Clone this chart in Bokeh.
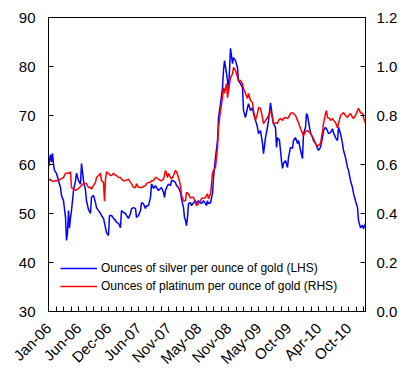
import math
from bokeh.plotting import figure
from bokeh.models import LinearAxis, Range1d, FixedTicker, PrintfTickFormatter
from bokeh.embed import file_html
from bokeh.resources import INLINE

# ---- data ----
# x = trading-day number counted from the first trading day of Jan 2006
silver_day = [0, 8, 12, 16, 20, 24, 32, 40, 48, 52, 60, 68, 72, 76, 80, 84, 88, 92, 100, 108, 112, 120, 128, 132, 140, 148,
              152, 160, 168, 172, 180, 188, 192, 200, 208, 212, 220, 228, 232, 240, 244, 252, 260, 268, 272, 280, 288, 292,
              300, 308, 312, 320, 328, 332, 340, 348, 352, 360, 368, 372, 380, 388, 392, 400, 408, 412, 416, 420, 428, 432,
              440, 448, 452, 460, 464, 468, 476, 480, 488, 492, 500, 508, 512, 520, 528, 532, 540, 544, 548, 552, 556, 560,
              568, 572, 580, 588, 592, 600, 608, 612, 620, 628, 632, 636, 640, 648, 656, 660, 668, 676, 680, 684, 688, 696,
              700, 704, 712, 716, 720, 724, 728, 736, 740, 748, 756, 760, 768, 776, 780, 788, 796, 800, 808, 816, 820, 828,
              836, 840, 848, 856, 860, 868, 876, 880, 888, 896, 900, 908, 912, 916, 924, 932, 936, 940, 948, 956, 960, 968,
              976, 980, 988, 996, 1000, 1008, 1016, 1020, 1028, 1032, 1036, 1044, 1048, 1056, 1060, 1068, 1076, 1080, 1088,
              1096, 1100, 1108, 1116, 1120, 1128, 1136, 1140, 1148, 1156, 1160, 1168, 1176, 1180, 1188, 1196, 1200, 1208,
              1216, 1220, 1228, 1236, 1240, 1248, 1256, 1260, 1268]
silver_ratio = [59.5, 62.0, 60.5, 62.3, 60.0, 58.8, 58.2, 56.7, 55.3, 53.7, 52.6, 49.2, 44.5, 46.0, 50.6, 47.0, 49.2, 50.6,
                54.7, 56.7, 58.2, 56.7, 56.0, 60.2, 56.7, 54.7, 52.6, 50.8, 50.0, 53.3, 53.7, 52.2, 51.2, 50.6, 50.0, 49.6,
                49.0, 47.1, 46.1, 45.5, 49.6, 49.6, 49.0, 48.6, 48.2, 48.0, 47.1, 50.6, 50.2, 50.0, 49.6, 49.0, 50.0, 51.0,
                51.2, 51.0, 49.2, 49.6, 50.6, 52.2, 52.0, 51.0, 51.6, 51.6, 53.3, 56.0, 55.7, 55.1, 55.7, 55.3, 54.7, 55.1,
                55.3, 54.3, 53.3, 54.7, 55.7, 56.0, 55.7, 56.7, 56.7, 56.3, 55.7, 55.3, 54.3, 53.0, 51.2, 49.2, 48.6, 47.5,
                49.2, 52.0, 52.2, 51.6, 52.2, 52.6, 52.0, 52.6, 52.2, 52.0, 52.6, 52.0, 51.6, 52.6, 52.0, 52.2, 54.1, 57.3,
                61.4, 64.9, 69.4, 71.0, 72.4, 75.7, 79.2, 81.2, 78.6, 77.1, 75.1, 79.2, 83.7, 80.6, 81.8, 81.2, 79.8, 77.1,
                76.5, 75.7, 71.0, 69.6, 71.6, 72.4, 71.0, 71.6, 70.4, 69.0, 67.6, 66.3, 66.9, 64.3, 62.2, 65.5, 67.6, 69.0,
                72.6, 69.6, 68.3, 67.6, 63.5, 65.5, 64.9, 60.8, 59.2, 60.2, 60.8, 59.4, 61.4, 63.5, 63.3, 64.9, 65.5, 64.3,
                64.9, 62.9, 61.2, 66.3, 67.6, 70.4, 70.0, 67.6, 66.5, 65.5, 64.9, 64.3, 63.3, 62.9, 63.5, 65.5, 66.9, 67.6,
                66.9, 66.3, 66.5, 67.3, 66.5, 65.5, 64.9, 67.6, 66.3, 64.3, 62.9, 61.4, 59.4, 58.8, 56.7, 55.3, 54.1, 52.6,
                51.2, 48.6, 47.1, 47.6, 46.9, 48.0]

platinum_day = [0, 8, 16, 28, 40, 48, 60, 68, 80, 88, 92, 100, 108, 120, 132, 140, 152, 160, 168, 172, 180, 188, 192, 200,
                208, 212, 220, 224, 228, 232, 240, 248, 252, 260, 268, 272, 280, 288, 292, 300, 308, 312, 320, 328, 332,
                340, 348, 352, 360, 372, 388, 392, 400, 408, 412, 420, 428, 432, 440, 448, 452, 460, 468, 472, 476, 480,
                488, 492, 500, 508, 512, 520, 528, 532, 540, 548, 552, 560, 568, 572, 580, 588, 592, 600, 608, 612, 620,
                628, 632, 636, 640, 648, 652, 656, 660, 668, 676, 680, 688, 696, 700, 704, 712, 716, 720, 728, 736, 740,
                748, 756, 760, 768, 776, 780, 788, 796, 800, 808, 816, 820, 828, 836, 840, 848, 856, 860, 868, 876, 880,
                888, 896, 900, 908, 916, 920, 928, 936, 940, 948, 956, 960, 968, 976, 980, 988, 996, 1000, 1008, 1016,
                1020, 1028, 1036, 1040, 1048, 1056, 1060, 1068, 1076, 1080, 1088, 1096, 1100, 1108, 1112, 1116, 1124,
                1128, 1136, 1140, 1148, 1156, 1160, 1168, 1176, 1180, 1188, 1196, 1200, 1208, 1216, 1220, 1228, 1236,
                1240, 1248, 1256, 1260, 1268]
platinum_ratio = [0.534, 0.54, 0.53, 0.534, 0.534, 0.54, 0.547, 0.564, 0.564, 0.57, 0.506, 0.50, 0.494, 0.502, 0.514,
                  0.522, 0.522, 0.506, 0.506, 0.50, 0.514, 0.527, 0.547, 0.555, 0.564, 0.534, 0.527, 0.45, 0.54, 0.57,
                  0.564, 0.555, 0.555, 0.564, 0.555, 0.555, 0.547, 0.547, 0.54, 0.534, 0.534, 0.536, 0.54, 0.527, 0.522,
                  0.506, 0.506, 0.522, 0.506, 0.506, 0.514, 0.522, 0.527, 0.527, 0.534, 0.534, 0.547, 0.547, 0.54, 0.534,
                  0.534, 0.54, 0.576, 0.564, 0.547, 0.564, 0.547, 0.54, 0.555, 0.576, 0.57, 0.547, 0.514, 0.474, 0.452,
                  0.452, 0.486, 0.48, 0.462, 0.466, 0.466, 0.444, 0.432, 0.44, 0.452, 0.462, 0.462, 0.466, 0.474, 0.48,
                  0.46, 0.48, 0.52, 0.564, 0.576, 0.588, 0.669, 0.75, 0.82, 0.873, 0.914, 0.89, 0.93, 0.873, 0.90, 0.955,
                  0.97, 0.996, 0.984, 0.955, 0.943, 0.943, 0.93, 0.91, 0.89, 0.869, 0.89, 0.861, 0.853, 0.82, 0.78,
                  0.808, 0.833, 0.829, 0.792, 0.767, 0.78, 0.792, 0.80, 0.82, 0.788, 0.767, 0.771, 0.767, 0.78, 0.788,
                  0.78, 0.788, 0.792, 0.788, 0.792, 0.808, 0.812, 0.808, 0.80, 0.78, 0.771, 0.747, 0.727, 0.718, 0.735,
                  0.739, 0.735, 0.727, 0.714, 0.706, 0.686, 0.673, 0.678, 0.686, 0.735, 0.767, 0.808, 0.82, 0.792, 0.788,
                  0.78, 0.788, 0.78, 0.771, 0.75, 0.767, 0.80, 0.808, 0.812, 0.80, 0.792, 0.80, 0.808, 0.792, 0.788, 0.80,
                  0.82, 0.829, 0.812, 0.808, 0.792, 0.767]

month_labels = ["Jan-06", "Jun-06", "Dec-06", "Jun-07", "Nov-07", "May-08", "Nov-08",
                "May-09", "Oct-09", "Apr-10", "Oct-10"]
tick_every = 30      # trading days between tick marks
label_every = 120    # trading days between labels
last_day = 1268

lhs_ticks = [30, 40, 50, 60, 70, 80, 90]
rhs_ticks = [0.0, 0.2, 0.4, 0.6, 0.8, 1.0, 1.2]

FONT = "Liberation Sans"

p = figure(width=400, height=375, output_backend="svg", toolbar_location=None,
           x_range=Range1d(0, last_day), y_range=Range1d(30, 90),
           min_border_left=48, min_border_right=35, min_border_top=17, min_border_bottom=64,
           background_fill_color="white", border_fill_color="white")
p.extra_y_ranges = {"rhs": Range1d(0, 1.2)}

p.xgrid.visible = False
p.ygrid.visible = False
p.outline_line_color = "black"
p.outline_line_width = 1
p.outline_line_alpha = 1

p.line(silver_day, silver_ratio, line_color="#0000FF", line_width=1.5,
       legend_label="Ounces of silver per ounce of gold (LHS)")
p.line(platinum_day, platinum_ratio, line_color="#FF0000", line_width=1.5, y_range_name="rhs",
       legend_label="Ounces of platinum per ounce of gold (RHS)")

# x axis
xticks = list(range(0, last_day + 1, tick_every))
overrides = {}
for t in xticks:
    overrides[t] = ""
for i, lab in enumerate(month_labels):
    overrides[i * label_every] = lab
xa = p.xaxis[0]
xa.ticker = FixedTicker(ticks=xticks)
xa.major_label_overrides = overrides
xa.major_label_orientation = math.pi / 4
xa.minor_tick_line_color = None

# left axis
ya = p.yaxis[0]
ya.ticker = FixedTicker(ticks=lhs_ticks)
ya.minor_tick_line_color = None

# right axis
ra = LinearAxis(y_range_name="rhs", ticker=FixedTicker(ticks=rhs_ticks),
                formatter=PrintfTickFormatter(format="%.1f"))
ra.minor_tick_line_color = None
p.add_layout(ra, "right")

for ax in [xa, ya, ra]:
    ax.axis_line_color = "black"
    ax.major_tick_line_color = "black"
    ax.major_tick_in = 5
    ax.major_tick_out = 0
    ax.major_label_text_color = "black"
    ax.major_label_text_font = FONT
    ax.major_label_text_font_size = "15px"
xa.major_label_standoff = 14
ya.major_label_standoff = 13
ra.major_label_standoff = 11

lg = p.legend[0]
lg.location = (12, 16)
lg.margin = 0
lg.padding = 4
lg.spacing = 0
lg.border_line_color = None
lg.background_fill_alpha = 0
lg.glyph_width = 37
lg.glyph_height = 18
lg.label_height = 18
lg.label_standoff = 4
lg.label_text_font = FONT
lg.label_text_font_size = "12px"
lg.label_text_color = "black"

open("out.html", "w").write(file_html(p, INLINE))
